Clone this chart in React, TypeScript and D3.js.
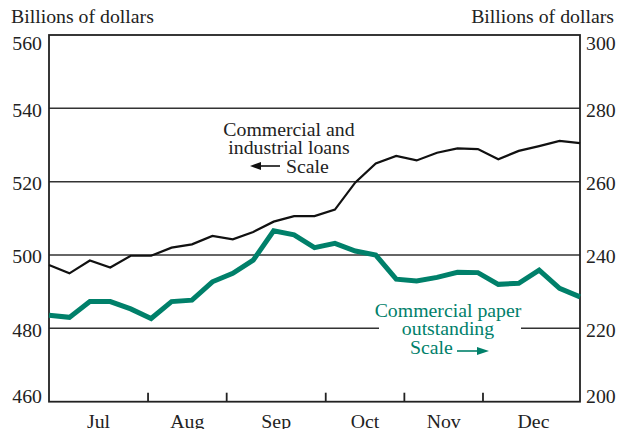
import React, {FC, useEffect, useRef} from 'react';
import * as d3 from 'd3';

// weekly observations, July through December
const loans = [
  497.3, 495.0, 498.5, 496.6, 499.8, 499.8, 502.0, 502.9, 505.2, 504.3,
  506.3, 509.1, 510.6, 510.6, 512.4, 519.8, 525.0, 527.0, 525.8, 527.9,
  529.1, 528.9, 526.1, 528.4, 529.7, 531.1, 530.5,
];
const paper = [
  223.6, 223.0, 227.3, 227.3, 225.3, 222.7, 227.3, 227.7, 232.7, 235.0,
  238.6, 246.6, 245.5, 242.0, 243.2, 241.1, 240.0, 233.4, 232.9, 233.9,
  235.3, 235.2, 232.0, 232.3, 235.9, 230.9, 228.6,
];
const months = ['Jul', 'Aug', 'Sep', 'Oct', 'Nov', 'Dec'];
// month boundaries, in week-index units
const monthBreaks = [4.85, 8.7, 13.55, 17.4, 21.25];
const leftTicks = [460, 480, 500, 520, 540, 560];
const rightTicks = [200, 220, 240, 260, 280, 300];

const GREEN = '#00806a';
const FONT = '"Liberation Serif", "Times New Roman", serif';
const FS = 19.8;

const App: FC = () => {
  const ref = useRef<SVGSVGElement>(null);

  const W = 618,
    H = 429;
  const margin = {top: 35, right: 38, bottom: 27.3, left: 49};
  const width = W - margin.left - margin.right,
    height = H - margin.top - margin.bottom;

  useEffect(() => {
    const root = d3.select(ref.current);
    root.selectAll('*').remove();

    const x = d3.scaleLinear().domain([0, loans.length - 1]).range([0, width]);
    const yL = d3.scaleLinear().domain([460, 560]).range([height, 0]);
    const yR = d3.scaleLinear().domain([200, 300]).range([height, 0]);

    const svg = root
      .append('g')
      .attr('transform', `translate(${margin.left}, ${margin.top})`);

    // gridlines
    svg
      .selectAll('line.grid')
      .data(leftTicks.slice(1, -1))
      .enter()
      .append('line')
      .attr('x1', 0)
      .attr('x2', width)
      .attr('y1', d => yL(d))
      .attr('y2', d => yL(d))
      .attr('stroke', '#333')
      .attr('stroke-width', 1.5);

    // frame
    svg
      .append('rect')
      .attr('width', width)
      .attr('height', height)
      .attr('fill', 'none')
      .attr('stroke', '#222')
      .attr('stroke-width', 1.8);

    // month ticks
    svg
      .selectAll('line.mtick')
      .data(monthBreaks)
      .enter()
      .append('line')
      .attr('x1', d => x(d))
      .attr('x2', d => x(d))
      .attr('y1', height)
      .attr('y2', height - 9)
      .attr('stroke', '#222')
      .attr('stroke-width', 1.8);

    const bounds = [0, ...monthBreaks, loans.length - 1];
    svg
      .selectAll('text.month')
      .data(months)
      .enter()
      .append('text')
      .attr('x', (d, i) => x((bounds[i] + bounds[i + 1]) / 2) + (i === 5 ? 2 : 0))
      .attr('y', 428 - margin.top)
      .attr('text-anchor', 'middle')
      .attr('font-family', FONT)
      .attr('font-size', FS)
      .attr('fill', '#222')
      .text(d => d);

    // axis labels
    const clampY = (v: number) => Math.min(Math.max(v + 1.5, 8), height - 6);
    svg
      .selectAll('text.lt')
      .data(leftTicks)
      .enter()
      .append('text')
      .attr('x', -7)
      .attr('y', d => clampY(yL(d)))
      .attr('dy', '0.35em')
      .attr('text-anchor', 'end')
      .attr('font-family', FONT)
      .attr('font-size', FS)
      .attr('fill', '#222')
      .text(d => d);
    svg
      .selectAll('text.rt')
      .data(rightTicks)
      .enter()
      .append('text')
      .attr('x', width + 6)
      .attr('y', d => clampY(yR(d)))
      .attr('dy', '0.35em')
      .attr('text-anchor', 'start')
      .attr('font-family', FONT)
      .attr('font-size', FS)
      .attr('fill', '#222')
      .text(d => d);

    root
      .append('text')
      .attr('x', 11)
      .attr('y', 23)
      .attr('font-family', FONT)
      .attr('font-size', FS)
      .attr('fill', '#222')
      .text('Billions of dollars');
    root
      .append('text')
      .attr('x', 614)
      .attr('y', 23)
      .attr('text-anchor', 'end')
      .attr('font-family', FONT)
      .attr('font-size', FS)
      .attr('fill', '#222')
      .text('Billions of dollars');

    // white patch behind the paper label
    svg
      .append('rect')
      .attr('x', 379 - margin.left)
      .attr('y', 303 - margin.top)
      .attr('width', 142)
      .attr('height', 55)
      .attr('fill', 'white');

    // lines
    svg
      .append('path')
      .datum(paper)
      .attr('fill', 'none')
      .attr('stroke', GREEN)
      .attr('stroke-width', 5)
      .attr('stroke-linejoin', 'miter')
      .attr('d', d3.line<number>().x((d, i) => x(i)).y(d => yR(d)));
    svg
      .append('path')
      .datum(loans)
      .attr('fill', 'none')
      .attr('stroke', '#111')
      .attr('stroke-width', 2.2)
      .attr('d', d3.line<number>().x((d, i) => x(i)).y(d => yL(d)));

    // annotations
    const note = (lines: string[], cx: number, y0: number, color: string) =>
      root
        .selectAll(null)
        .data(lines)
        .enter()
        .append('text')
        .attr('x', cx)
        .attr('y', (d, i) => y0 + i * 18.3)
        .attr('text-anchor', 'middle')
        .attr('font-family', FONT)
        .attr('font-size', FS)
        .attr('fill', color)
        .text(d => d);

    note(['Commercial and', 'industrial loans'], 289, 136, '#222');
    root
      .append('text')
      .attr('x', 286)
      .attr('y', 172.6)
      .attr('font-family', FONT)
      .attr('font-size', FS)
      .attr('fill', '#222')
      .text('Scale');
    root
      .append('line')
      .attr('x1', 280)
      .attr('x2', 258)
      .attr('y1', 166)
      .attr('y2', 166)
      .attr('stroke', '#111')
      .attr('stroke-width', 1.6);
    root
      .append('path')
      .attr('d', 'M250,166 L261,162 L261,170 Z')
      .attr('fill', '#111');

    note(['Commercial paper', 'outstanding'], 448, 317, GREEN);
    root
      .append('text')
      .attr('x', 410)
      .attr('y', 353.6)
      .attr('font-family', FONT)
      .attr('font-size', FS)
      .attr('fill', GREEN)
      .text('Scale');
    root
      .append('line')
      .attr('x1', 457)
      .attr('x2', 480)
      .attr('y1', 351)
      .attr('y2', 351)
      .attr('stroke', GREEN)
      .attr('stroke-width', 1.6);
    root
      .append('path')
      .attr('d', 'M489,351 L477,347 L477,355 Z')
      .attr('fill', GREEN);
  }, [height, margin.left, margin.top, width]);

  return (
    <svg
      ref={ref}
      width={W}
      height={H}
      style={{position: 'absolute', left: 0, top: 0, background: 'white'}}
    />
  );
};

export default App;
